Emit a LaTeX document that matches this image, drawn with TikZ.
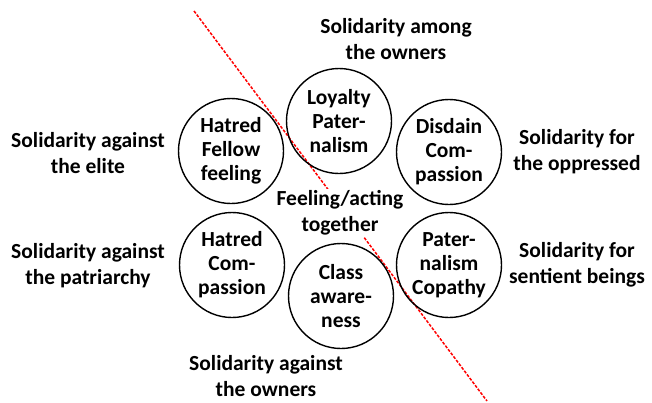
\documentclass[tikz,border=0pt]{standalone}
\usepackage{fontspec}
\setmainfont{Carlito}
\begin{document}
\begin{tikzpicture}[x=1pt,y=-1pt,
  circ/.style={circle,draw,line width=1.4pt,minimum size=105pt,inner sep=0pt,align=center,
    font=\bfseries\fontsize{21.5}{24}\selectfont},
  lab/.style={align=center,inner sep=0.5pt,font=\bfseries\fontsize{21.5}{26}\selectfont},
  divider/.style={draw=red,line width=1.5pt,dash pattern=on 3pt off 1.5pt}]
\useasboundingbox (0,0) rectangle (652,402);
\coordinate (d1) at (194,11);
\coordinate (d2) at (487,401);
\draw[divider] (d1) -- (d2);
\node[lab,fill=white,inner sep=2pt] (center) at (340,213) {Feeling/acting\\together};
\node[circ] (top) at (339,121) {Loyalty\\Pater-\\nalism};
\node[circ] (lt) at (231,151) {Hatred\\Fellow\\feeling};
\node[circ] (rt) at (449,152) {Disdain\\Com-\\passion};
\node[circ] (lb) at (232,265) {Hatred\\Com-\\passion};
\node[circ] (rb) at (449,265) {Pater-\\nalism\\Copathy};
\node[circ] (bot) at (341,296) {Class\\aware-\\ness};
\node[lab] (ltop) at (396,39) {Solidarity among\\the owners};
\node[lab] (lleft1) at (88,153) {Solidarity against\\the elite};
\node[lab] (lleft2) at (88,266) {Solidarity against\\the patriarchy};
\node[lab] (lright1) at (577,152) {Solidarity for\\the oppressed};
\node[lab] (lright2) at (577,265) {Solidarity for\\sentient beings};
\node[lab] (lbot) at (266,376) {Solidarity against\\the owners};
\end{tikzpicture}
\end{document}
